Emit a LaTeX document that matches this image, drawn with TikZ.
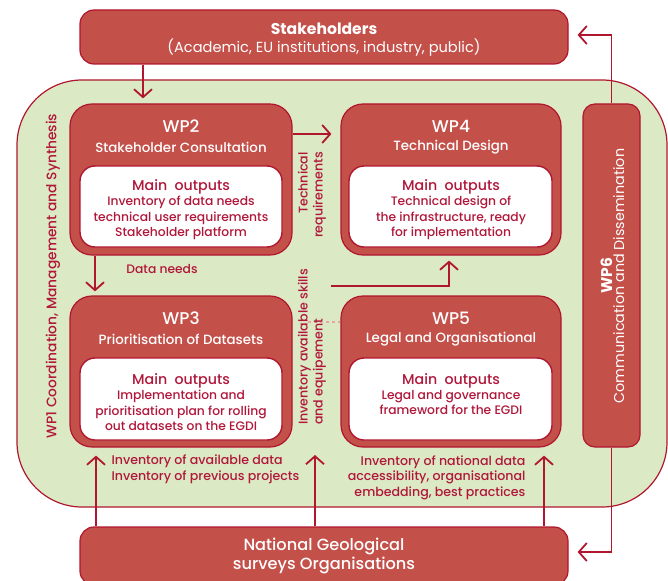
\documentclass[tikz,border=0pt]{standalone}
\usepackage{fontspec}
\setmainfont{Poppins}
\newfontfamily\medfont{Poppins Medium}
\newcommand\mainoutfont{\medfont\fontsize{14.2}{16}\selectfont}
\usetikzlibrary{arrows.meta}
\definecolor{boxfill}{HTML}{C4504A}
\definecolor{dred}{HTML}{B0172F}
\definecolor{tred}{HTML}{B0173A}
\definecolor{lgreen}{HTML}{DCE9C5}
\definecolor{dashc}{HTML}{E4A8A0}
\begin{document}
\begin{tikzpicture}[x=1pt,y=-1pt,
  wpbox/.style={draw=dred, line width=1.2pt, fill=boxfill, rounded corners=22pt, inner sep=0pt},
  inbox/.style={draw=dred, line width=1.4pt, fill=white, rounded corners=15pt, inner sep=0pt},
  conn/.style={draw=dred, line width=1.8pt, -{Straight Barb[length=8pt,width=18pt,line width=1.8pt]}},
  wptitle/.style={text=white, font=\medfont\fontsize{17}{20}\selectfont},
  wpsub/.style={text=white, font=\medfont\fontsize{13.4}{16}\selectfont},
  outtxt/.style={text=tred, font=\medfont\fontsize{12.3}{15.3}\selectfont, align=center},
  lbl/.style={text=tred, font=\medfont\fontsize{12.6}{15}\selectfont}
]
\useasboundingbox (0,0) rectangle (668,580);

% WP1 background
\node[draw=dred, line width=1.2pt, fill=lgreen, rounded corners=65pt,
      minimum width=650pt, minimum height=427pt, inner sep=0pt] (wp1) at (342,293.5) {};
\node[rotate=90, text=tred, font=\medfont\fontsize{13.8}{16}\selectfont] (wp1t) at (53,276)
  {WP1 Coordination, Management and Synthesis};

% Stakeholders
\node[wpbox, rounded corners=14pt, minimum width=488pt, minimum height=54pt] (stake) at (324,37) {};
\node[text=white, font=\bfseries\fontsize{15.6}{18}\selectfont] (staket) at (324,29) {Stakeholders};
\node[text=white, font=\fontsize{14.6}{17}\selectfont] (stakes) at (324,48) {(Academic, EU institutions, industry, public)};

% National
\node[wpbox, rounded corners=14pt, minimum width=488pt, minimum height=58pt] (ngs) at (324,556) {};
\node[text=white, font=\medfont\fontsize{16.2}{19.5}\selectfont, align=center] (ngst) at (324,556)
  {National Geological\\surveys Organisations};

% WP2
\node[wpbox, minimum width=222pt, minimum height=151pt] (wp2) at (181,179.5) {};
\node[inbox, minimum width=202pt, minimum height=81pt] (wp2in) at (181,206.5) {};
\node[wptitle] (wp2a) at (181,126) {WP2};
\node[wpsub] (wp2b) at (181,147) {Stakeholder Consultation};
\node[outtxt] (wp2c) at (181,209.5) {{\mainoutfont Main~~outputs}\\Inventory of data needs\\technical user requirements\\Stakeholder platform};

% WP4
\node[wpbox, minimum width=220pt, minimum height=151pt] (wp4) at (451,179.5) {};
\node[inbox, minimum width=203pt, minimum height=81pt] (wp4in) at (450.5,206.5) {};
\node[wptitle] (wp4a) at (451,126) {WP4};
\node[wpsub] (wp4b) at (451,147) {Technical Design};
\node[outtxt] (wp4c) at (451,209.5) {{\mainoutfont Main~~outputs}\\Technical design of\\the infrastructure, ready\\for implementation};

% WP3
\node[wpbox, minimum width=222pt, minimum height=151pt] (wp3) at (181,371.5) {};
\node[inbox, minimum width=202pt, minimum height=82pt] (wp3in) at (181,399) {};
\node[wptitle] (wp3a) at (181,318) {WP3};
\node[wpsub] (wp3b) at (181,339) {Prioritisation of Datasets};
\node[outtxt] (wp3c) at (181,402) {{\mainoutfont Main~~outputs}\\Implementation and\\prioritisation plan for rolling\\out datasets on the EGDI};

% WP5
\node[wpbox, minimum width=220pt, minimum height=151pt] (wp5) at (451,371.5) {};
\node[inbox, minimum width=203pt, minimum height=82pt] (wp5in) at (450.5,399) {};
\node[wptitle] (wp5a) at (451,318) {WP5};
\node[wpsub] (wp5b) at (451,339) {Legal and Organisational};
\node[outtxt] (wp5c) at (451,394) {{\mainoutfont Main~~outputs}\\Legal and governance\\frameword for the EGDI};

% WP6
\node[wpbox, rounded corners=12pt, minimum width=57pt, minimum height=343pt] (wp6) at (611.5,275.5) {};
\node[rotate=90, text=white, align=center] (wp6t) at (612.5,276)
  {{\bfseries\fontsize{15.5}{17}\selectfont WP6}\\{\fontsize{14.3}{16.5}\selectfont Communication and Dissemination}};

% helper coordinates
\coordinate (xa) at (143,0);
\coordinate (xc) at (95,0);
\coordinate (xd) at (449,0);
\coordinate (xe) at (96,0);
\coordinate (xf) at (544,0);
\coordinate (yb) at (0,134);
\coordinate (yt) at (0,35);
\coordinate (yn) at (0,552);
\coordinate (sk) at (331,286);
\coordinate (mid) at (315,455);
\coordinate (dsh) at (308,322);

% connectors
\draw[conn, shorten >=5pt] (stake.south -| xa) -- (wp2.north -| xa);
\draw[conn, shorten >=9pt] (wp2.east |- yb) -- (wp4.west |- yb);
\draw[conn, shorten >=4pt] (wp2.south -| xc) -- (wp3.north -| xc);
\draw[conn, shorten >=5pt] (sk) -| (wp4.south -| xd);
\draw[dashc, dashed, line width=1.8pt] (dsh) -- (wp5.west |- dsh);
\draw[conn, shorten >=8pt] (ngs.north -| xe) -- (wp3.south -| xe);
\draw[conn] (ngs.north -| mid) -- (mid);
\draw[conn, shorten >=8pt] (ngs.north -| xf) -- (wp5.south -| xf);
\draw[conn, shorten >=9pt] (wp6.north) |- (stake.east |- yt);
\draw[conn, shorten >=9pt] (wp6.south) |- (ngs.east |- yn);

% labels
\node[rotate=90, align=right, lbl] (techreq) at (312,195) {Technical\\requirements};
\node[rotate=90, align=left, lbl] (skills) at (312,347) {Inventory available skills\\and equipement};
\node[lbl, font=\medfont\fontsize{12.3}{15}\selectfont] (dneeds) at (162,269) {Data needs};
\node[lbl, align=left, anchor=west, font=\medfont\fontsize{12.6}{15.5}\selectfont] (avail) at (108,469.5) {Inventory of available data\\Inventory of previous projects};
\node[lbl, align=right, anchor=east, font=\medfont\fontsize{12.6}{15.5}\selectfont] (natl) at (529,477.5) {Inventory of national data\\accessibility, organisational\\embedding, best practices};
\end{tikzpicture}
\end{document}
